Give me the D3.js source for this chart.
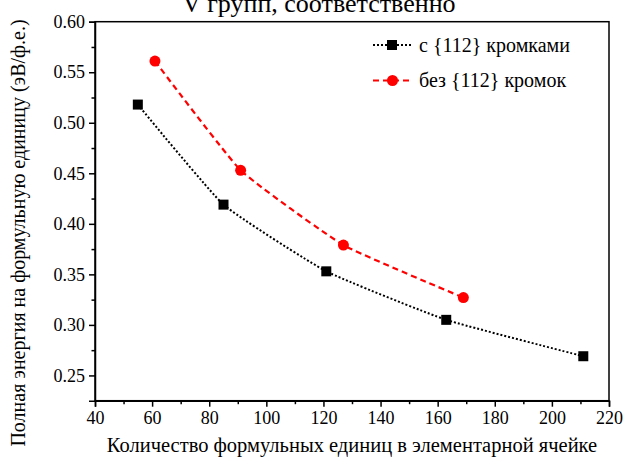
<!DOCTYPE html>
<html>
<head>
<meta charset="utf-8">
<script src="https://cdn.jsdelivr.net/npm/d3@7"></script>
<style>
  html, body { margin: 0; padding: 0; background: #fff; }
  svg { display: block; font-family: "Liberation Serif", "Times New Roman", serif; }
</style>
</head>
<body>
<div id="chart"></div>
<script>
// data
const withEdgesX = [55, 85, 121, 163, 211];
const withEdgesY = [0.518, 0.419, 0.353, 0.305, 0.269];
const noEdgesX = [61, 91, 127, 169];
const noEdgesY = [0.561, 0.453, 0.379, 0.327];

const xTicks = [40, 60, 80, 100, 120, 140, 160, 180, 200, 220];
const xMinor = [50, 70, 90, 110, 130, 150, 170, 190, 210];
const yTicks = [0.25, 0.30, 0.35, 0.40, 0.45, 0.50, 0.55, 0.60];
const yMinor = [0.275, 0.325, 0.375, 0.425, 0.475, 0.525, 0.575];

const seriesNames = ["с {112} кромками", "без {112} кромок"];
const xTitle = "Количество формульных единиц в элементарной ячейке";
const yTitle = "Полная энергия на формульную единицу (эВ/ф.е.)";
const caption = "V групп, соответственно";

const W = 623, H = 458;
const margin = { top: 21.7, right: 14, bottom: 57.3, left: 95 };
const width = W - margin.left - margin.right;
const height = H - margin.top - margin.bottom;

const svg = d3.select("#chart")
  .append("svg")
  .attr("width", W)
  .attr("height", H);

// caption line of the page, cut off by the top edge
svg.append("text")
  .attr("x", 319)
  .attr("y", 11.5)
  .attr("text-anchor", "middle")
  .attr("font-size", "26px")
  .attr("fill", "#000")
  .text(caption);

const g = svg.append("g")
  .attr("transform", `translate(${margin.left},${margin.top})`);

const x = d3.scaleLinear().domain([40, 220]).range([0, width]);
const y = d3.scaleLinear().domain([0.225, 0.60]).range([height, 0]);

// frame
g.append("rect")
  .attr("x", 0).attr("y", 0)
  .attr("width", width).attr("height", height)
  .attr("fill", "none")
  .attr("stroke", "#000")
  .attr("stroke-width", 1.5);

// x axis
const xAxis = g.append("g")
  .attr("transform", `translate(0,${height})`)
  .call(d3.axisBottom(x).tickValues(xTicks).tickSize(6).tickPadding(5).tickFormat(d3.format("d")));
xAxis.select(".domain").attr("stroke-width", 1.5);
xAxis.selectAll(".tick line").attr("stroke-width", 1.5);
xAxis.selectAll(".tick text").attr("font-size", "18px").attr("font-family", "Liberation Serif").attr("fill", "#000");

g.append("g")
  .attr("transform", `translate(0,${height})`)
  .call(d3.axisBottom(x).tickValues(xMinor).tickSize(3.5).tickFormat(""))
  .call((s) => s.select(".domain").remove())
  .selectAll(".tick line").attr("stroke-width", 1.5);

// y axis
const yAxis = g.append("g")
  .call(d3.axisLeft(y).tickValues(yTicks).tickSize(6).tickPadding(4).tickFormat(d3.format(".2f")));
yAxis.select(".domain").attr("stroke-width", 1.5);
yAxis.selectAll(".tick line").attr("stroke-width", 1.5);
yAxis.selectAll(".tick text").attr("font-size", "18px").attr("font-family", "Liberation Serif").attr("fill", "#000");

g.append("g")
  .call(d3.axisLeft(y).tickValues(yMinor).tickSize(3.5).tickFormat(""))
  .call((s) => s.select(".domain").remove())
  .selectAll(".tick line").attr("stroke-width", 1.5);

// axis titles
svg.append("text")
  .attr("x", 352)
  .attr("y", 452)
  .attr("text-anchor", "middle")
  .attr("font-size", "20.5px")
  .attr("fill", "#000")
  .text(xTitle);

svg.append("text")
  .attr("transform", `translate(25,${233}) rotate(-90)`)
  .attr("text-anchor", "middle")
  .attr("font-size", "20px")
  .attr("fill", "#000")
  .text(yTitle);

// lines
const blackPts = withEdgesX.map((d, i) => ({ x: d, y: withEdgesY[i] }));
const redPts = noEdgesX.map((d, i) => ({ x: d, y: noEdgesY[i] }));

const line = d3.line()
  .x((d) => x(d.x))
  .y((d) => y(d.y))
  .curve(d3.curveCardinal.tension(0.6));

g.append("path")
  .datum(blackPts)
  .attr("fill", "none")
  .attr("stroke", "#000")
  .attr("stroke-width", 2)
  .attr("stroke-dasharray", "2,2")
  .attr("d", line);

g.append("path")
  .datum(redPts)
  .attr("fill", "none")
  .attr("stroke", "#ff0000")
  .attr("stroke-width", 2.2)
  .attr("stroke-dasharray", "6,4")
  .attr("d", line);

// markers
g.selectAll(".sq")
  .data(blackPts)
  .enter()
  .append("rect")
  .attr("class", "sq")
  .attr("x", (d) => x(d.x) - 5)
  .attr("y", (d) => y(d.y) - 5)
  .attr("width", 10)
  .attr("height", 10)
  .attr("fill", "#000");

g.selectAll(".dot")
  .data(redPts)
  .enter()
  .append("circle")
  .attr("class", "dot")
  .attr("cx", (d) => x(d.x))
  .attr("cy", (d) => y(d.y))
  .attr("r", 5.5)
  .attr("fill", "#ff0000");

// legend
const legend = svg.append("g").attr("transform", "translate(373,45)");

legend.append("line")
  .attr("x1", 0).attr("x2", 39).attr("y1", 0).attr("y2", 0)
  .attr("stroke", "#000").attr("stroke-width", 2).attr("stroke-dasharray", "2,2");
legend.append("rect")
  .attr("x", 14).attr("y", -5).attr("width", 10).attr("height", 10).attr("fill", "#000");
legend.append("text")
  .attr("x", 46).attr("y", 6.5)
  .attr("font-size", "20px").attr("fill", "#000")
  .text(seriesNames[0]);

legend.append("line")
  .attr("x1", 0).attr("x2", 39).attr("y1", 35.5).attr("y2", 35.5)
  .attr("stroke", "#ff0000").attr("stroke-width", 2.2).attr("stroke-dasharray", "6,4");
legend.append("circle")
  .attr("cx", 19.5).attr("cy", 35.5).attr("r", 5.5).attr("fill", "#ff0000");
legend.append("text")
  .attr("x", 46).attr("y", 42)
  .attr("font-size", "20px").attr("fill", "#000")
  .text(seriesNames[1]);
</script>
</body>
</html>
